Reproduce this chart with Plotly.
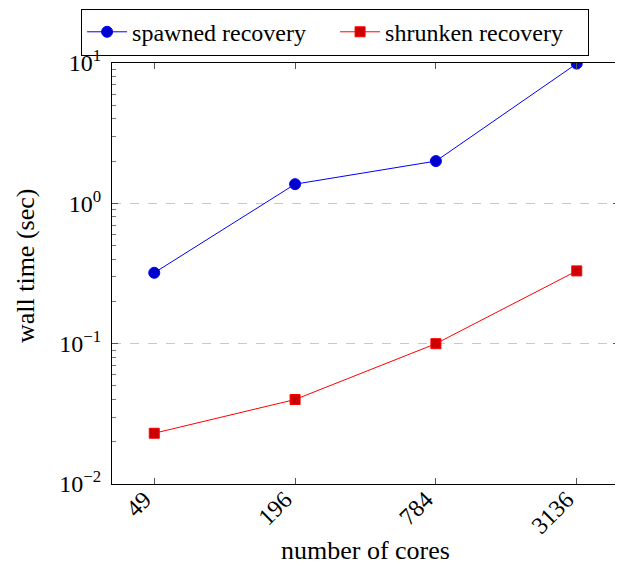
import plotly.graph_objects as go

cores = ["49", "196", "784", "3136"]
spawned = [0.32, 1.37, 2.0, 9.9]
shrunken = [0.023, 0.040, 0.100, 0.33]
ytick_vals = [0.01, 0.1, 1, 10]
ytick_text = ["10<sup>−2</sup>", "10<sup>−1</sup>", "10<sup>0</sup>", "10<sup>1</sup>"]

serif = "Liberation Serif, Times New Roman, serif"

fig = go.Figure()
fig.add_trace(go.Scatter(
    x=cores, y=spawned, name="spawned recovery", mode="lines+markers",
    line=dict(color="#0000ff", width=1),
    marker=dict(symbol="circle", size=11, color="#0000cc", line=dict(color="#0000ff", width=1)),
))
fig.add_trace(go.Scatter(
    x=cores, y=shrunken, name="shrunken recovery", mode="lines+markers",
    line=dict(color="#ff0000", width=1),
    marker=dict(symbol="square", size=10, color="#cc0000", line=dict(color="#ff0000", width=1)),
))

fig.update_layout(
    width=615, height=558,
    margin=dict(l=104, r=4, t=55, b=82, autoexpand=False),
    plot_bgcolor="white", paper_bgcolor="white",
    font=dict(family=serif, size=24, color="black"),
    showlegend=True,
    legend=dict(
        orientation="h", x=0.44, xanchor="center", y=1.129, yanchor="top",
        bordercolor="black", borderwidth=1,
        font=dict(family=serif, size=24),
        bgcolor="rgba(255,255,255,0)", entrywidth=198, itemwidth=40,
    ),
    annotations=[
        dict(text="number of cores", xref="paper", yref="paper", x=0.5, y=-0.195,
             xanchor="center", yanchor="bottom", showarrow=False, borderpad=0,
             font=dict(family=serif, size=26)),
        dict(text="wall time (sec)", xref="paper", yref="paper", x=-0.1716, y=0.52,
             xanchor="center", yanchor="middle", showarrow=False, textangle=-90,
             font=dict(family=serif, size=26)),
    ],
)

fig.update_xaxes(
    type="category", range=[-0.3, 3.3], automargin=False,
    showline=True, linecolor="black", linewidth=1, mirror="allticks",
    ticks="inside", ticklen=6, tickcolor="#555555", tickwidth=1,
    tickangle=-45, tickfont=dict(family=serif, size=24),
    ticklabelstandoff=-9, ticklabelshift=-10,
    showgrid=False,
)
fig.update_yaxes(
    type="log", range=[-2, 1], automargin=False,
    tickvals=ytick_vals, ticktext=ytick_text,
    showline=True, linecolor="black", linewidth=1, mirror="allticks",
    ticks="inside", ticklen=6, tickcolor="#555555", tickwidth=1,
    tickfont=dict(family=serif, size=24), ticklabelstandoff=5,
    showgrid=True, gridcolor="#c8c8c8", griddash="dash", gridwidth=1,
    minor=dict(dtick="D1", ticks="inside", ticklen=4, tickcolor="#777777", showgrid=False),
)

fig.write_html("out.html")
